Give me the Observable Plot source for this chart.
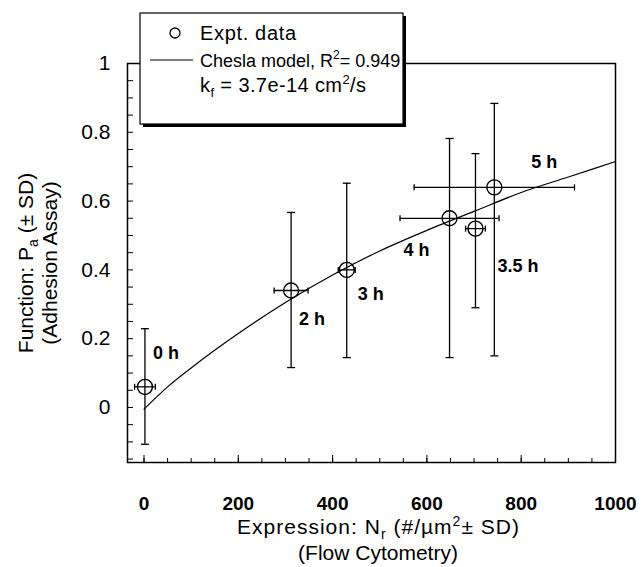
<!DOCTYPE html>
<html><head><meta charset="utf-8">
<script src="https://cdn.jsdelivr.net/npm/d3@7"></script>
<script src="https://cdn.jsdelivr.net/npm/@observablehq/plot@0.6"></script>
<style>
body{margin:0;background:#fff;}
#chart svg{font-family:"Liberation Sans",Arial,sans-serif;}
</style>
</head><body><div id="chart"></div>
<script>
// ---- data ----
const timeLabels = ["0 h", "2 h", "3 h", "4 h", "3.5 h", "5 h"];
const nr    = [2, 312, 430, 648, 703, 743];           // receptor expression (#/um^2)
const nrSD  = [22, 36, 18, 105, 21, 170];
const pa    = [0.06, 0.34, 0.40, 0.55, 0.52, 0.64];   // adhesion probability
const paLow  = [-0.107, 0.116, 0.145, 0.145, 0.29, 0.15];
const paHigh = [0.229, 0.567, 0.652, 0.782, 0.738, 0.884];
const modelN = [0, 50, 100, 200, 300, 400, 500, 600, 700, 800, 900, 1000];
const modelP = [-0.005, 0.06, 0.115, 0.215, 0.305, 0.385, 0.455, 0.515, 0.57, 0.625, 0.67, 0.715];
const xTickValues = [0, 200, 400, 600, 800, 1000];
const xMinorTicks = d3.range(0, 1001, 50);
const yTickValues = [0, 0.2, 0.4, 0.6, 0.8, 1];
const yMinorTicks = d3.range(-0.15, 1.001, 0.05).map(v => +v.toFixed(2));

// label placement (layout only)
const labelOffsets = [[8, -34], [8, 29], [11, 24], [-46, 32], [22, 38], [37, -25]];

const pts = timeLabels.map((t, i) => ({t, x: nr[i], xs: nrSD[i], y: pa[i], lo: paLow[i], hi: paHigh[i]}));
const model = modelN.map((n, i) => ({x: n, y: modelP[i]}));

const capH = {draw(ctx, size) { const r = Math.sqrt(size / Math.PI); ctx.moveTo(-r, 0); ctx.lineTo(r, 0); }};
const capV = {draw(ctx, size) { const r = Math.sqrt(size / Math.PI); ctx.moveTo(0, -r); ctx.lineTo(0, r); }};
const noText = () => "";

const chart = Plot.plot({
  width: 642, height: 567,
  marginLeft: 127, marginRight: 27, marginTop: 63, marginBottom: 105,
  style: {fontFamily: "Liberation Sans, Arial, sans-serif", color: "black", background: "white"},
  x: {domain: [-35, 1000]},
  y: {domain: [-0.16, 1.0]},
  marks: [
    Plot.frame({stroke: "black", strokeWidth: 1.5}),
    // inward ticks
    Plot.axisY({ticks: yMinorTicks, tickSize: 6, dx: 6, tickFormat: noText, label: null}),
    Plot.axisX({ticks: xMinorTicks, tickSize: 4, dy: -4, tickFormat: noText, label: null}),
    Plot.axisX({ticks: xTickValues, tickSize: 7, dy: -7, tickFormat: noText, label: null}),
    // tick labels
    Plot.axisY({ticks: yTickValues, tickSize: 0, tickPadding: 17, tickFormat: d => String(d), fontSize: 21, label: null}),
    Plot.axisX({ticks: xTickValues, tickSize: 0, tickPadding: 34, tickFormat: d => String(d), fontSize: 19, fontWeight: "bold", label: null}),
    // model curve
    Plot.line(model, {x: "x", y: "y", stroke: "black", strokeWidth: 1.2, curve: "monotone-x"}),
    // error bars
    Plot.ruleX(pts, {x: "x", y1: "lo", y2: "hi", stroke: "black", strokeWidth: 1.3}),
    Plot.ruleY(pts, {y: "y", x1: d => d.x - d.xs, x2: d => d.x + d.xs, stroke: "black", strokeWidth: 1.3}),
    Plot.dot(pts, {x: "x", y: "hi", symbol: capH, r: 4, stroke: "black", strokeWidth: 1.3}),
    Plot.dot(pts, {x: "x", y: "lo", symbol: capH, r: 4, stroke: "black", strokeWidth: 1.3}),
    Plot.dot(pts, {x: d => d.x - d.xs, y: "y", symbol: capV, r: 3, stroke: "black", strokeWidth: 1.3}),
    Plot.dot(pts, {x: d => d.x + d.xs, y: "y", symbol: capV, r: 3, stroke: "black", strokeWidth: 1.3}),
    // data circles
    Plot.dot(pts, {x: "x", y: "y", r: 7.5, stroke: "black", strokeWidth: 1.4, fill: "none"}),
    // time labels
    ...pts.map((p, i) => Plot.text([p], {x: "x", y: "y", text: "t", dx: labelOffsets[i][0], dy: labelOffsets[i][1], textAnchor: "start", fontSize: 18, fontWeight: "bold"}))
  ]
});

document.getElementById("chart").append(chart);
const svg = d3.select(chart);
const FONT = "Liberation Sans, Arial, sans-serif";

// ---- axis titles ----
const yt = svg.append("g").attr("transform", "translate(33,263) rotate(-90)")
  .attr("font-family", FONT).attr("font-size", 21).attr("text-anchor", "middle").attr("fill", "black");
const y1 = yt.append("text").attr("y", 0);
y1.append("tspan").text("Function: P");
y1.append("tspan").attr("font-size", 14).attr("dy", 5).text("a");
y1.append("tspan").attr("dy", -5).text(" (± SD)");
yt.append("text").attr("y", 24).text("(Adhesion Assay)");

const xt = svg.append("g").attr("font-family", FONT).attr("font-size", 21)
  .attr("text-anchor", "middle").attr("fill", "black");
const x1 = xt.append("text").attr("x", 378).attr("y", 534).attr("textLength", 282).attr("lengthAdjust", "spacing");
x1.append("tspan").text("Expression: N");
x1.append("tspan").attr("font-size", 14).attr("dy", 5).text("r");
x1.append("tspan").attr("dy", -5).text(" (#/µm");
x1.append("tspan").attr("font-size", 14).attr("dy", -8).text("2");
x1.append("tspan").attr("dy", 8).text("± SD)");
xt.append("text").attr("x", 378).attr("y", 560).text("(Flow Cytometry)");

// ---- legend ----
const lg = svg.append("g").attr("font-family", FONT).attr("font-size", 20)
  .attr("fill", "black").attr("text-anchor", "start");
lg.append("rect").attr("x", 143).attr("y", 16).attr("width", 263).attr("height", 111).attr("fill", "black");
lg.append("rect").attr("x", 140).attr("y", 13).attr("width", 263).attr("height", 111)
  .attr("fill", "white").attr("stroke", "black").attr("stroke-width", 1.2);
lg.append("circle").attr("cx", 175).attr("cy", 33).attr("r", 5).attr("fill", "none").attr("stroke", "black").attr("stroke-width", 1.3);
lg.append("text").attr("x", 200).attr("y", 40).attr("textLength", 96).attr("lengthAdjust", "spacing").text("Expt. data");
lg.append("line").attr("x1", 150).attr("x2", 193).attr("y1", 60).attr("y2", 60).attr("stroke", "black").attr("stroke-width", 1.2);
const l2 = lg.append("text").attr("x", 200).attr("y", 67).attr("font-size", 18);
l2.append("tspan").text("Chesla model, R");
l2.append("tspan").attr("font-size", 12).attr("dy", -8).text("2");
l2.append("tspan").attr("dy", 8).text("= 0.949");
const l3 = lg.append("text").attr("x", 200).attr("y", 92).attr("textLength", 166).attr("lengthAdjust", "spacing");
l3.append("tspan").text("k");
l3.append("tspan").attr("font-size", 13).attr("dy", 5).text("f");
l3.append("tspan").attr("dy", -5).text(" = 3.7e-14 cm");
l3.append("tspan").attr("font-size", 13).attr("dy", -8).text("2");
l3.append("tspan").attr("dy", 8).text("/s");
</script>
</body></html>
